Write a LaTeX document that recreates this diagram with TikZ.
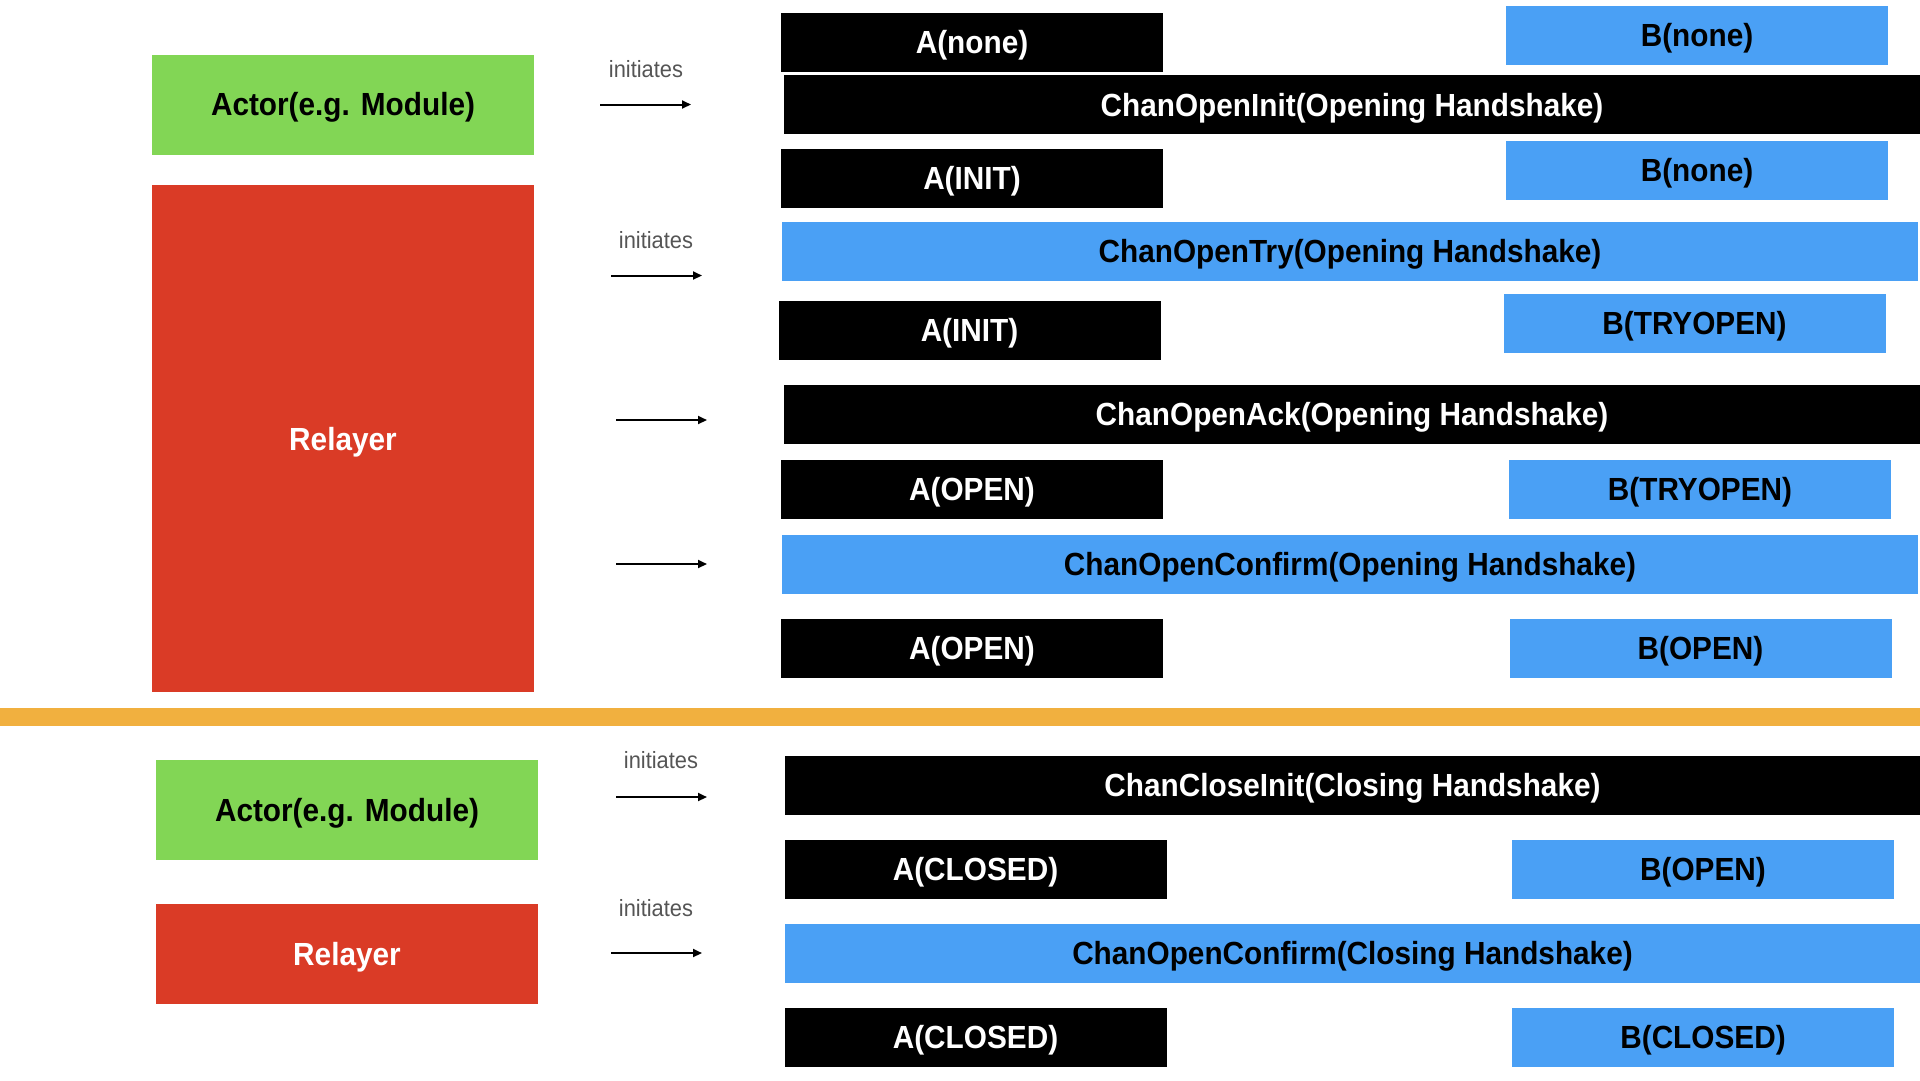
\documentclass[tikz,border=0pt]{standalone}
\usepackage{fontspec}
\setmainfont[FakeStretch=0.93]{Liberation Sans}
\usetikzlibrary{arrows.meta}

\definecolor{actgreen}{RGB}{130,214,85}
\definecolor{relred}{RGB}{218,59,38}
\definecolor{chanblue}{RGB}{74,160,245}
\definecolor{sepband}{RGB}{241,176,63}
\definecolor{lblgray}{RGB}{85,85,85}

\begin{document}
\begin{tikzpicture}[x=1pt, y=-1pt,
  big/.style={font=\fontsize{32}{38}\selectfont\bfseries, inner sep=0pt, text height=22.9pt, text depth=0pt},
  actorbox/.style={big, fill=actgreen, text=black, minimum width=382pt, minimum height=100pt},
  relaybox/.style={big, fill=relred, text=white, minimum width=382pt},
  stateA/.style={big, fill=black, text=white, minimum width=382pt, minimum height=59pt},
  stateB/.style={big, fill=chanblue, text=black, minimum width=382pt, minimum height=59pt},
  msgblack/.style={big, fill=black, text=white, minimum width=1136pt, minimum height=59pt},
  msgblue/.style={big, fill=chanblue, text=black, minimum width=1136pt, minimum height=59pt},
  lbl/.style={font=\fontsize{23.5}{28}\selectfont, text=lblgray, anchor=base, inner sep=0pt},
  arr/.style={line width=2pt, -{Triangle[length=9pt,width=8pt]}}]

\useasboundingbox (0, 0) rectangle (1920, 1080);

% opening handshake
\node[actorbox] (actor1) at (343, 104.5) {Actor(e.g. Module)};
\node[relaybox, minimum height=507pt] (relay1) at (343, 438.7) {Relayer};

\node[stateA] (a1) at (972, 42.5) {A(none)};
\node[stateB] (b1) at (1697, 35) {B(none)};
\node[msgblack] (init) at (1352, 104.7) {ChanOpenInit(Opening Handshake)};
\node[stateA] (a2) at (972, 178) {A(INIT)};
\node[stateB] (b2) at (1697, 170) {B(none)};
\node[msgblue] (try) at (1350, 251) {ChanOpenTry(Opening Handshake)};
\node[stateA] (a3) at (969.5, 330) {A(INIT)};
\node[stateB] (b3) at (1694.5, 323) {B(TRYOPEN)};
\node[msgblack] (ack) at (1352, 414) {ChanOpenAck(Opening Handshake)};
\node[stateA] (a4) at (972, 489) {A(OPEN)};
\node[stateB] (b4) at (1700, 489) {B(TRYOPEN)};
\node[msgblue] (confirm) at (1350, 564) {ChanOpenConfirm(Opening Handshake)};
\node[stateA] (a5) at (972, 648) {A(OPEN)};
\node[stateB] (b5) at (1700.5, 648) {B(OPEN)};

\coordinate (s1) at (600, 104.5);  \coordinate (e1) at (691, 104.5);
\coordinate (s2) at (611, 275.5);  \coordinate (e2) at (702, 275.5);
\coordinate (s3) at (616, 420);    \coordinate (e3) at (707, 420);
\coordinate (s4) at (616, 564);    \coordinate (e4) at (707, 564);
\draw[arr] (s1) -- (e1);
\draw[arr] (s2) -- (e2);
\draw[arr] (s3) -- (e3);
\draw[arr] (s4) -- (e4);
\node[lbl] (lbl1) at (646, 77.5) {initiates};
\node[lbl] (lbl2) at (656, 248) {initiates};

% separator
\fill[sepband] (0, 708) rectangle (1920, 726);

% closing handshake
\node[actorbox] (actor2) at (347, 810) {Actor(e.g. Module)};
\node[relaybox, minimum height=100pt] (relay2) at (347, 954) {Relayer};

\node[msgblack] (closeinit) at (1352.5, 785.5) {ChanCloseInit(Closing Handshake)};
\node[stateA] (a6) at (975.5, 869.5) {A(CLOSED)};
\node[stateB] (b6) at (1703, 869.5) {B(OPEN)};
\node[msgblue] (closeconfirm) at (1352.5, 953) {ChanOpenConfirm(Closing Handshake)};
\node[stateA] (a7) at (975.5, 1037) {A(CLOSED)};
\node[stateB] (b7) at (1703, 1037) {B(CLOSED)};

\coordinate (s5) at (616, 797);    \coordinate (e5) at (707, 797);
\coordinate (s6) at (611, 953);    \coordinate (e6) at (702, 953);
\draw[arr] (s5) -- (e5);
\draw[arr] (s6) -- (e6);
\node[lbl] (lbl3) at (661, 768) {initiates};
\node[lbl] (lbl4) at (656, 916) {initiates};

\end{tikzpicture}
\end{document}
